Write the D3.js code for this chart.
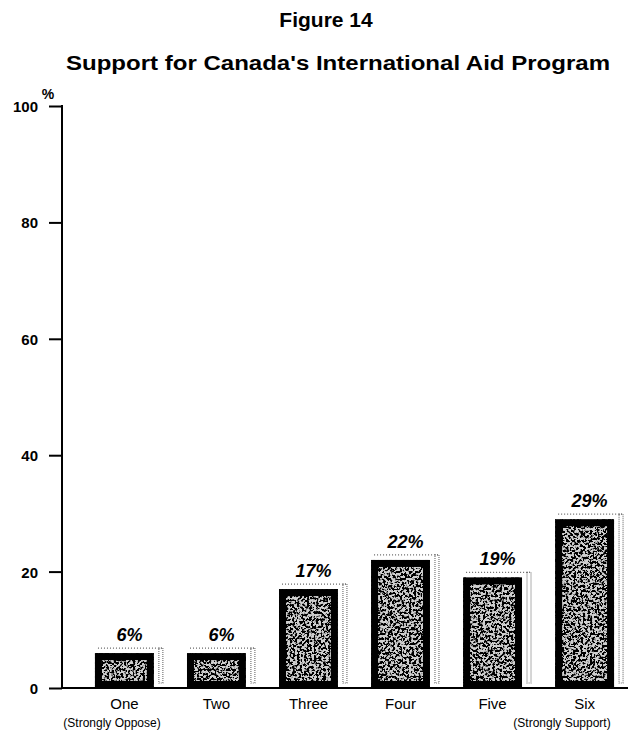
<!DOCTYPE html>
<html>
<head>
<meta charset="utf-8">
<script src="https://cdn.jsdelivr.net/npm/d3@7"></script>
<style>
  html, body { margin: 0; padding: 0; background: #fff; }
  svg { display: block; font-family: "Liberation Sans", Arial, Helvetica, sans-serif; }
</style>
</head>
<body>
<svg id="chart" width="628" height="732"></svg>
<script>
const categories = ["One", "Two", "Three", "Four", "Five", "Six"];
const subLabels = ["(Strongly Oppose)", "", "", "", "", "(Strongly Support)"];
const values = [6, 6, 17, 22, 19, 29];
const valueLabels = ["6%", "6%", "17%", "22%", "19%", "29%"];
const yTicks = [0, 20, 40, 60, 80, 100];
const titleText = "Figure 14";
const subtitleText = "Support for Canada's International Aid Program";

const svg = d3.select("#chart");
const x0 = 62, yBase = 688, yTop = 106;

const y = d3.scaleLinear().domain([0, 100]).range([yBase, yTop]);
const x = d3.scaleBand().domain(categories).range([x0, 647]).paddingInner(0.36).paddingOuter(0.358);

// defs: speckle texture
const defs = svg.append("defs");
const f = defs.append("filter").attr("id", "speckle").attr("x", 0).attr("y", 0).attr("width", 1).attr("height", 1);
f.append("feTurbulence").attr("type", "fractalNoise").attr("baseFrequency", 0.42).attr("numOctaves", 3).attr("seed", 11).attr("result", "noise");
f.append("feColorMatrix").attr("in", "noise").attr("type", "matrix")
  .attr("values", "0 0 0 0 0  0 0 0 0 0  0 0 0 0 0  -10 0 0 0 5.6")
  .attr("result", "dots");
f.append("feFlood").attr("flood-color", "#cfcfcf").attr("result", "bg");
f.append("feComposite").attr("in", "dots").attr("in2", "bg").attr("operator", "over").attr("result", "tex");
f.append("feComposite").attr("in", "tex").attr("in2", "SourceGraphic").attr("operator", "in");

// Titles
svg.append("text").attr("x", 326).attr("y", 27).attr("text-anchor", "middle")
  .attr("font-size", 21).attr("font-weight", "bold").text(titleText);
svg.append("text").attr("x", 338).attr("y", 70).attr("text-anchor", "middle")
  .attr("font-size", 20).attr("font-weight", "bold").attr("textLength", 544).attr("lengthAdjust", "spacingAndGlyphs").text(subtitleText);

// Y axis
const yAxis = d3.axisLeft(y).tickValues(yTicks).tickSize(13).tickPadding(11);
const gy = svg.append("g").attr("transform", `translate(${x0},0)`).call(yAxis);
gy.select(".domain").remove();
gy.selectAll(".tick line").attr("stroke", "#000").attr("stroke-width", 2);
gy.selectAll(".tick text").attr("font-size", 15).attr("font-weight", "bold").attr("fill", "#000")
  .attr("font-family", "Liberation Sans, Arial, sans-serif").attr("dy", "0.36em");
svg.append("line").attr("x1", x0).attr("x2", x0).attr("y1", y(100) - 1).attr("y2", yBase)
  .attr("stroke", "#000").attr("stroke-width", 2);
svg.append("text").attr("x", 48).attr("y", 99).attr("text-anchor", "middle")
  .attr("font-size", 14).attr("font-weight", "bold").text("%");

// Bars
const bars = svg.append("g");
const sw = 7;
const shDx = 9, shDy = 5;
categories.forEach((c, i) => {
  const bx = x(c), bw = x.bandwidth(), by = y(values[i]), bh = yBase - by;
  // shadow (dotted outline behind)
  bars.append("line").attr("x1", bx + 3).attr("x2", bx + bw + shDx).attr("y1", by - shDy).attr("y2", by - shDy)
    .attr("stroke", "#666").attr("stroke-width", 1.3).attr("stroke-dasharray", "1,2");
  bars.append("rect").attr("x", bx + bw + shDx - 4).attr("y", by - shDy).attr("width", 4).attr("height", bh + shDy - 5)
    .attr("fill", "none").attr("stroke", "#777").attr("stroke-width", 1.2).attr("stroke-dasharray", "1,1");
  // texture fill
  bars.append("rect").attr("x", bx).attr("y", by).attr("width", bw).attr("height", bh)
    .attr("fill", "#000").attr("filter", "url(#speckle)");
  // thick black border
  bars.append("rect").attr("x", bx + sw / 2).attr("y", by + sw / 2).attr("width", bw - sw).attr("height", bh - sw)
    .attr("fill", "none").attr("stroke", "#000").attr("stroke-width", sw);
  // value label
  bars.append("text").attr("x", bx + bw / 2 + 5).attr("y", by - 12).attr("text-anchor", "middle")
    .attr("font-size", 18).attr("font-weight", "bold").attr("font-style", "italic").text(valueLabels[i]);
  // category labels
  bars.append("text").attr("x", bx + bw / 2).attr("y", 709).attr("text-anchor", "middle")
    .attr("font-size", 15).text(c);
});
// sub labels
svg.append("text").attr("x", 112).attr("y", 727).attr("text-anchor", "middle").attr("font-size", 12).text(subLabels[0]);
svg.append("text").attr("x", 562).attr("y", 727).attr("text-anchor", "middle").attr("font-size", 12).text(subLabels[5]);

// baseline
svg.append("line").attr("x1", x0).attr("x2", 628).attr("y1", yBase).attr("y2", yBase)
  .attr("stroke", "#000").attr("stroke-width", 2);
</script>
</body>
</html>
